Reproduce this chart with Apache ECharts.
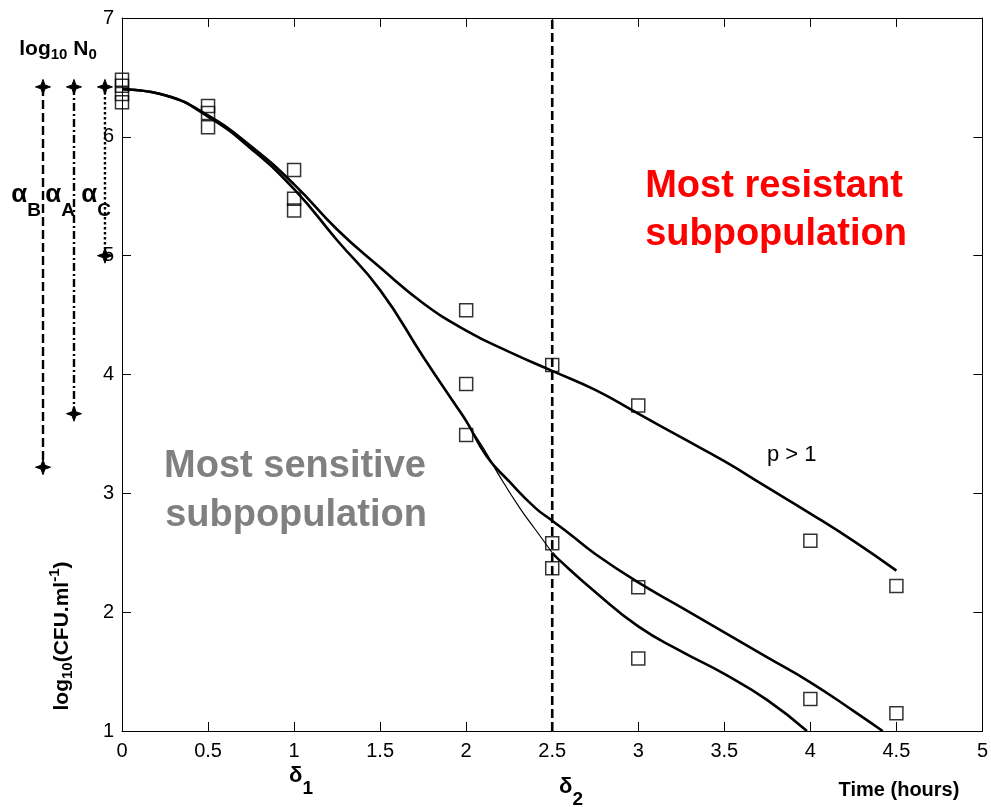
<!DOCTYPE html>
<html>
<head>
<meta charset="utf-8">
<script src="https://cdn.jsdelivr.net/npm/echarts@6/dist/echarts.min.js"></script>
<style>
html,body{margin:0;padding:0;background:#fff;}
#chart{width:991px;height:807px;}
</style>
</head>
<body>
<div id="chart"></div>
<script>
// ---- data ----
const xTickValues = [0, 0.5, 1, 1.5, 2, 2.5, 3, 3.5, 4, 4.5, 5];
const yTickValues = [1, 2, 3, 4, 5, 6, 7];

const obsTime   = [0, 0, 0, 0, 0.5, 0.5, 0.5, 1, 1, 1, 2, 2, 2, 2.5, 2.5, 2.5, 3, 3, 3, 4, 4, 4.5, 4.5];
const obsLogCfu = [6.48, 6.43, 6.36, 6.29, 6.26, 6.20, 6.08, 5.72, 5.48, 5.38, 4.54, 3.92, 3.49, 4.08, 2.58, 2.37, 3.74, 2.21, 1.61, 2.60, 1.27, 2.22, 1.15];

const upperFitTime = [0, 0.25, 0.5, 0.75, 1.0, 1.25, 1.5, 1.75, 2.0, 2.25, 2.5, 2.75, 3.0, 3.25, 3.5, 3.75, 4.0, 4.25, 4.5];
const upperFitVal  = [6.40, 6.35, 6.18, 5.92, 5.60, 5.22, 4.90, 4.60, 4.37, 4.19, 4.03, 3.87, 3.67, 3.47, 3.27, 3.05, 2.83, 2.60, 2.35];

const middleFitTime = [0, 0.25, 0.5, 0.75, 1.0, 1.25, 1.5, 1.75, 1.93, 2.0, 2.12, 2.25, 2.4, 2.5, 2.6, 2.75, 3.0, 3.25, 3.5, 3.75, 4.0, 4.25, 4.42];
const middleFitVal  = [6.40, 6.35, 6.17, 5.90, 5.56, 5.13, 4.71, 4.15, 3.76, 3.61, 3.31, 3.10, 2.88, 2.77, 2.66, 2.49, 2.25, 2.04, 1.83, 1.62, 1.41, 1.17, 1.0];

const lowerThinTime = [1.93, 2.0, 2.1, 2.2, 2.31, 2.4, 2.5];
const lowerThinVal  = [3.76, 3.60, 3.38, 3.13, 2.88, 2.70, 2.50];

const lowerFitTime = [2.5, 2.54, 2.75, 3.0, 3.25, 3.5, 3.75, 3.98];
const lowerFitVal  = [2.50, 2.44, 2.17, 1.88, 1.67, 1.48, 1.26, 1.0];

const delta2Time = 2.5;
const delta2Range = [1, 7];

// alpha annotation bars (left of the axis): x position (time units), top (log10 N0), bottom
const alphaNames  = ['B', 'A', 'C'];
const alphaX      = [-0.459, -0.279, -0.099];
const log10N0     = 6.42;
const alphaBottom = [3.22, 3.67, 5.0];

// ---- helpers ----
const mctx = document.createElement('canvas').getContext('2d');
const FONT = '"Liberation Sans", Arial, sans-serif';
function seqText(cx, cy, segs, opt) {
  opt = opt || {};
  const widths = segs.map(s => {
    mctx.font = (s.w || 'bold') + ' ' + s.size + 'px ' + FONT;
    return mctx.measureText(s.t).width;
  });
  const total = widths.reduce((a, b) => a + b, 0);
  let x = opt.align === 'left' ? 0 : -total / 2;
  const children = segs.map((s, i) => {
    const el = {
      type: 'text', x: x, y: s.dy || 0,
      style: {
        text: s.t,
        font: (s.w || 'bold') + ' ' + s.size + 'px ' + FONT,
        fill: s.color || '#000',
        textAlign: 'left', textVerticalAlign: 'middle'
      }
    };
    x += widths[i];
    return el;
  });
  return { type: 'group', x: cx, y: cy, rotation: opt.rotation || 0, children: children };
}

const zip = (a, b) => a.map((v, i) => [v, b[i]]);

const alphaDash = [[9, 4], [8, 3, 2, 3], [2.5, 2.5]];

function starPoints(cx, cy, r) {
  const k = r * 0.26;
  return [[cx, cy - r], [cx + k, cy - k], [cx + r, cy], [cx + k, cy + k],
          [cx, cy + r], [cx - k, cy + k], [cx - r, cy], [cx - k, cy - k]];
}

const chart = echarts.init(document.getElementById('chart'), null, { renderer: 'canvas' });

const axisCommon = {
  type: 'value',
  axisLine: { show: true, onZero: false, lineStyle: { color: '#000', width: 1 } },
  axisTick: { show: true, inside: true, length: 9, lineStyle: { color: '#000', width: 1 } },
  splitLine: { show: false }
};

const series = [];
// data points
series.push({
  type: 'scatter',
  data: zip(obsTime, obsLogCfu),
  symbol: 'rect',
  symbolSize: 13,
  itemStyle: { color: 'rgba(0,0,0,0)', borderColor: '#000', borderWidth: 1.5 },
  z: 5
});
// fits
const fitLine = (t, v, w) => ({
  type: 'line', data: zip(t, v), showSymbol: false, symbol: 'none',
  smooth: 0.5,
  lineStyle: { color: '#000', width: w }, z: 3
});
series.push(fitLine(upperFitTime, upperFitVal, 2.6));
series.push(fitLine(middleFitTime, middleFitVal, 2.6));
series.push(fitLine(lowerThinTime, lowerThinVal, 1.2));
series.push(fitLine(lowerFitTime, lowerFitVal, 2.6));
// delta2 dashed line
series.push({
  type: 'line', data: [[delta2Time, delta2Range[0]], [delta2Time, delta2Range[1]]],
  showSymbol: false, symbol: 'none',
  lineStyle: { color: '#000', width: 2.6, type: [9, 4] }, z: 2
});
// alpha bars (outside the plotting area, left of the y axis)
series.push({
  type: 'custom',
  coordinateSystem: 'cartesian2d',
  clip: false,
  data: alphaX.map((x, i) => [x, log10N0, alphaBottom[i], i]),
  encode: { x: 0, y: [1, 2] },
  renderItem: function (params, api) {
    const i = api.value(3);
    const p1 = api.coord([api.value(0), api.value(1)]);
    const p2 = api.coord([api.value(0), api.value(2)]);
    return {
      type: 'group',
      children: [
        { type: 'line', shape: { x1: p1[0], y1: p1[1], x2: p2[0], y2: p2[1] },
          style: { stroke: '#000', lineWidth: 2.4, lineDash: alphaDash[i] } },
        { type: 'polygon', shape: { points: starPoints(p1[0], p1[1], 7.5) }, style: { fill: '#000', stroke: '#000', lineWidth: 1 } },
        { type: 'polygon', shape: { points: starPoints(p2[0], p2[1], 7.5) }, style: { fill: '#000', stroke: '#000', lineWidth: 1 } }
      ]
    };
  },
  z: 4
});

const graphics = [
  // log10 N0
  seqText(58, 49, [
    { t: 'log', size: 21 }, { t: '10', size: 15, dy: 6 },
    { t: ' N', size: 21 }, { t: '0', size: 15, dy: 6 }
  ]),
  // alphas
  seqText(26, 195, [{ t: 'α', size: 26 }, { t: 'B', size: 19, dy: 16 }]),
  seqText(60, 195, [{ t: 'α', size: 26 }, { t: 'A', size: 19, dy: 16 }]),
  seqText(96, 195, [{ t: 'α', size: 26 }, { t: 'C', size: 19, dy: 16 }]),
  // y axis title
  seqText(62, 636, [
    { t: 'log', size: 21 }, { t: '10', size: 15, dy: 6 },
    { t: '(CFU.ml', size: 21 }, { t: '-1', size: 15, dy: -7 }, { t: ')', size: 21 }
  ], { rotation: Math.PI / 2 }),
  // deltas
  seqText(301, 776, [{ t: 'δ', size: 22 }, { t: '1', size: 19, dy: 13 }]),
  seqText(571, 787, [{ t: 'δ', size: 22 }, { t: '2', size: 19, dy: 13 }]),
  // x axis title
  seqText(899, 790, [{ t: 'Time (hours)', size: 20 }]),
  // region labels
  seqText(774, 187, [{ t: 'Most resistant', size: 38, color: '#ff0000' }]),
  seqText(776, 235, [{ t: 'subpopulation', size: 38, color: '#ff0000' }]),
  seqText(295, 467, [{ t: 'Most sensitive', size: 38, color: '#808080' }]),
  seqText(296, 516, [{ t: 'subpopulation', size: 38, color: '#808080' }]),
  // p > 1
  seqText(767, 455, [{ t: 'p > 1', size: 22, w: 'normal' }], { align: 'left' })
];

const option = {
  animation: false,
  backgroundColor: '#fff',
  grid: { left: 122, top: 18, width: 862, height: 713, containLabel: false },
  xAxis: [
    Object.assign({}, axisCommon, {
      position: 'bottom', min: 0, max: 5, interval: 0.5,
      axisLabel: { show: true, color: '#000', fontSize: 20, fontFamily: FONT, margin: 10,
        formatter: v => String(v) }
    }),
    Object.assign({}, axisCommon, {
      position: 'top', min: 0, max: 5, interval: 0.5,
      axisLabel: { show: false }
    })
  ],
  yAxis: [
    Object.assign({}, axisCommon, {
      position: 'left', min: 1, max: 7, interval: 1,
      axisLabel: { show: true, color: '#000', fontSize: 20, fontFamily: FONT, margin: 8,
        formatter: v => String(v) }
    }),
    Object.assign({}, axisCommon, {
      position: 'right', min: 1, max: 7, interval: 1,
      axisLabel: { show: false }
    })
  ],
  series: series,
  graphic: { elements: graphics }
};
chart.setOption(option);
</script>
</body>
</html>
